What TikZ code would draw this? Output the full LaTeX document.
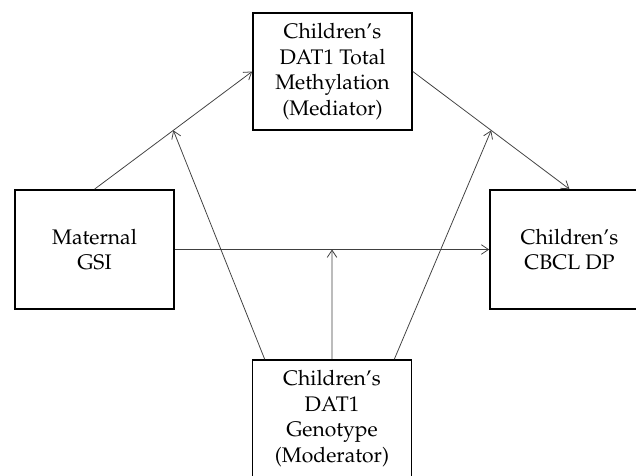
\documentclass[tikz,border=0pt]{standalone}
\usepackage[T1]{fontenc}
\usepackage{mathpazo}
\usetikzlibrary{arrows.meta,calc}

\begin{document}
\begin{tikzpicture}[x=0.025cm,y=-0.025cm,>={Straight Barb[length=1.8mm,width=2.4mm]}]
        \tikzset{
            varbox/.style={draw,line width=1pt,align=center,inner sep=2pt,
                minimum width=3.98cm,font=\fontsize{15}{18.2}\selectfont},
            path/.style={->,black!75,line width=0.55pt}
        }

        \useasboundingbox (0,0) rectangle (636,475);
        \clip (0,0) rectangle (636,475);

        \node[varbox,minimum height=2.93cm] (med) at (332.5,71.5) {Children's\\DAT1 Total\\Methylation\\(Mediator)};
        \node[varbox,minimum height=2.98cm] (gsi) at (94.5,249.5) {Maternal\\GSI};
        \node[varbox,minimum height=2.98cm] (dp) at (569.5,249.5) {Children's\\CBCL DP};
        \node[varbox,minimum height=2.93cm] (mod) at (332,418.5) {Children's\\DAT1\\Genotype\\(Moderator)};

        \coordinate (a) at ($(gsi.north)!0.5!(med.west)$);
        \coordinate (b) at ($(med.east)!0.5!(dp.north)$);
        \coordinate (c) at ($(gsi.east)!0.5!(dp.west)$);

        \draw[path] (gsi.north) -- (med.west);
        \draw[path] (med.east) -- (dp.north);
        \draw[path] (gsi.east) -- (dp.west);

        \draw[path] ([xshift=13*0.025cm]mod.north west) -- (a);
        \draw[path] ([xshift=-18*0.025cm]mod.north east) -- (b);
        \draw[path] (mod.north) -- (c);
    \end{tikzpicture}
\end{document}
